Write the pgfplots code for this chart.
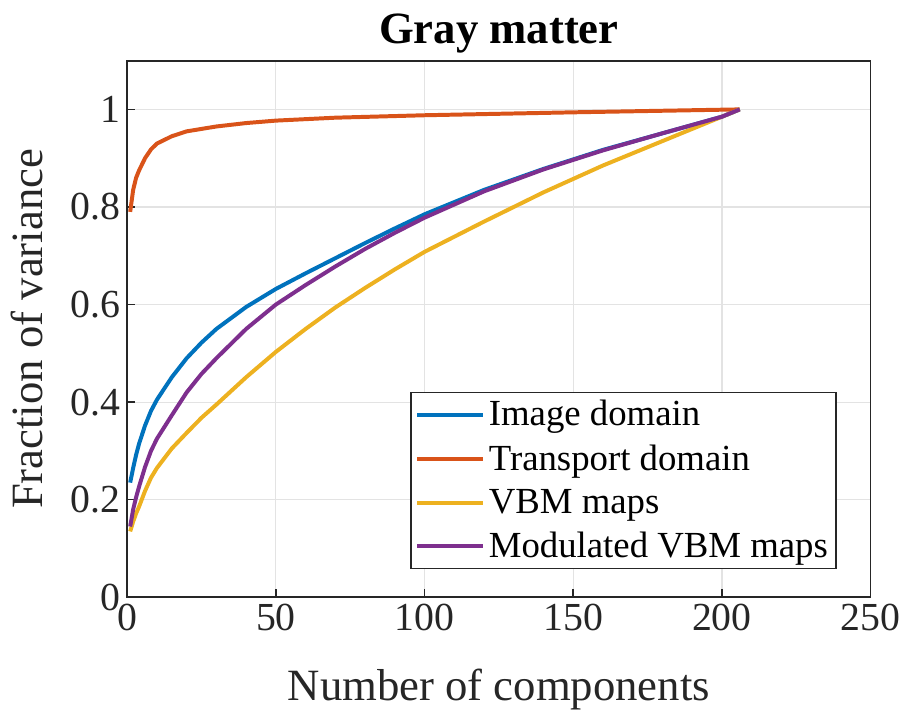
\documentclass[border=0pt]{standalone}
\usepackage{pgfplots}
\pgfplotsset{compat=1.18}
\usepackage{fontspec}
\setmainfont{Liberation Serif}
\usetikzlibrary{calc}
\definecolor{mblue}{rgb}{0,0.447,0.741}
\definecolor{morange}{rgb}{0.85,0.325,0.098}
\definecolor{myellow}{rgb}{0.929,0.694,0.125}
\definecolor{mpurple}{rgb}{0.494,0.184,0.556}
\definecolor{axgray}{rgb}{0.15,0.15,0.15}
\begin{document}
\begin{tikzpicture}
\begin{axis}[
  name=ax,
  scale only axis,
  width=374pt, height=270pt,
  xmin=0, xmax=250, ymin=0, ymax=1.1,
  xtick={0,50,100,150,200,250},
  ytick={0,0.2,0.4,0.6,0.8,1},
  yticklabels={0,0.2,0.4,0.6,0.8,1},
  /pgf/number format/assume math mode=true,
  tick label style={font=\fontsize{20}{22}\selectfont, text=axgray},
  grid=major,
  major grid style={gray!22, line width=0.6pt},
  axis line style={axgray, line width=0.9pt},
  tick style={axgray, line width=0.8pt},
  tick align=inside,
  major tick length=4pt,
  xtick pos=bottom, ytick pos=left,
  xlabel={Number of components},
  ylabel={Fraction of variance},
  label style={font=\fontsize{22.5}{24}\selectfont, text=axgray},
  xlabel style={yshift=-12pt},
  ylabel style={yshift=7pt},
  title={\textbf{Gray matter}},
  title style={font=\fontsize{22.5}{24}\selectfont, yshift=-6pt},
  legend style={at={(rel axis cs:1,0)}, anchor=south east, xshift=-17pt, yshift=14pt,
    font=\fontsize{18.5}{20}\selectfont, draw=axgray, line width=0.9pt,
    inner xsep=2pt, inner ysep=2pt, row sep=4pt},
  legend cell align=left,
  legend image code/.code={\draw[#1, line width=2pt] (0pt,0pt) -- (33pt,0pt);},
  every axis plot/.append style={line width=2pt},
]
\addplot[mblue] coordinates {
(1,0.235) (2,0.265) (3,0.292) (4,0.315) (6,0.352) (8,0.382) (10,0.405) (15,0.451)
(20,0.49) (25,0.522) (30,0.55) (40,0.595) (50,0.632) (60,0.664) (70,0.695) (80,0.726)
(90,0.756) (100,0.785) (120,0.835) (140,0.878) (160,0.917) (180,0.951) (200,0.985) (206,1)
};
\addlegendentry{Image domain}
\addplot[morange] coordinates {
(1,0.79) (2,0.835) (3,0.86) (4,0.875) (6,0.9) (8,0.918) (10,0.93) (15,0.945)
(20,0.955) (30,0.965) (40,0.972) (50,0.977) (70,0.983) (100,0.988) (150,0.994) (206,1)
};
\addlegendentry{Transport domain}
\addplot[myellow] coordinates {
(1,0.135) (2,0.155) (3,0.172) (4,0.186) (6,0.218) (8,0.245) (10,0.265) (15,0.305)
(20,0.337) (25,0.368) (30,0.395) (40,0.451) (50,0.503) (60,0.55) (70,0.594) (80,0.634)
(90,0.672) (100,0.708) (120,0.77) (140,0.83) (160,0.885) (180,0.935) (200,0.985) (206,1)
};
\addlegendentry{VBM maps}
\addplot[mpurple] coordinates {
(1,0.145) (2,0.18) (3,0.205) (4,0.227) (6,0.267) (8,0.30) (10,0.325) (15,0.373)
(20,0.42) (25,0.458) (30,0.49) (40,0.55) (50,0.60) (60,0.64) (70,0.678) (80,0.714)
(90,0.747) (100,0.778) (120,0.832) (140,0.877) (160,0.916) (180,0.951) (200,0.985) (206,1)
};
\addlegendentry{Modulated VBM maps}
\end{axis}
\path[use as bounding box] ($(ax.south west)+(-64pt,-55.5pt)$) rectangle ($(ax.south west)+(389.5pt,300.5pt)$);
\end{tikzpicture}
\end{document}
